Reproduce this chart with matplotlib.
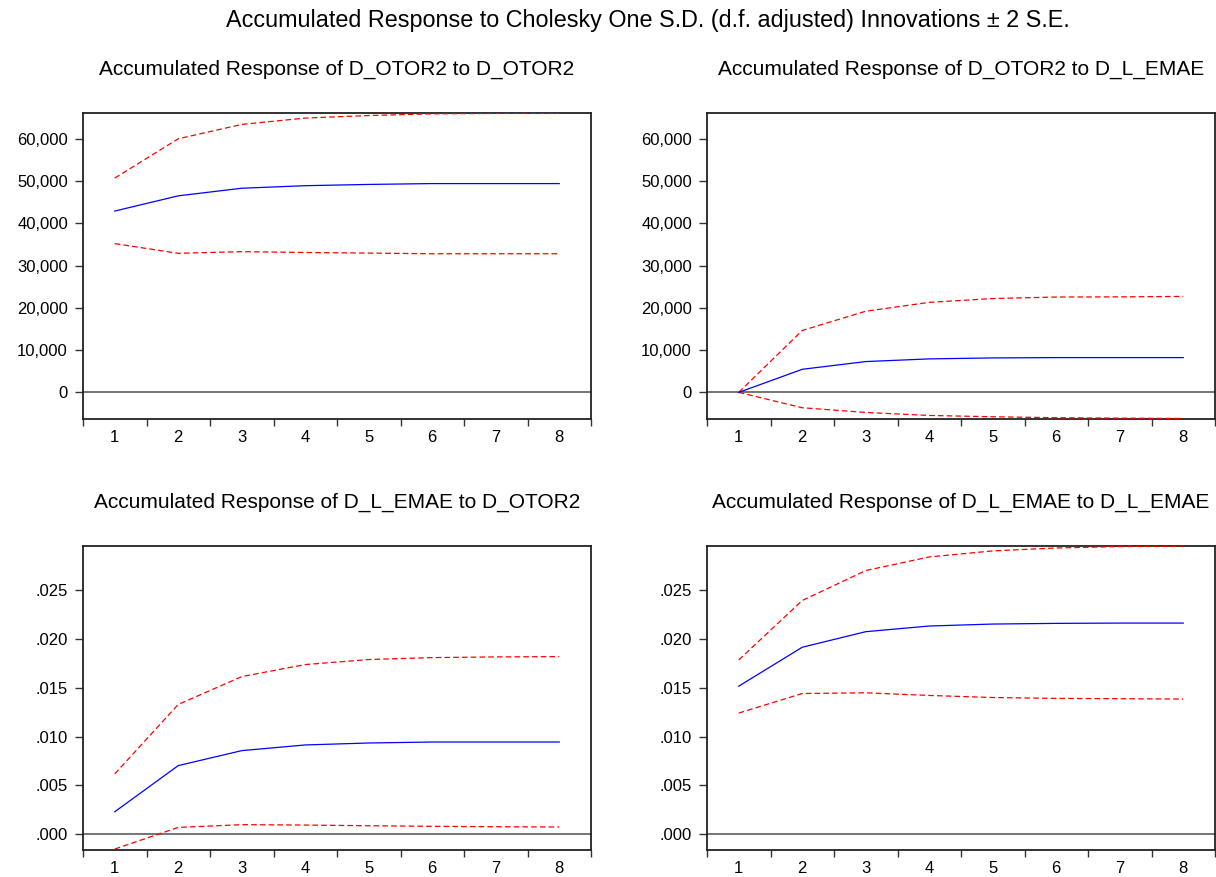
import matplotlib
matplotlib.use("Agg")
import matplotlib.pyplot as plt
import numpy as np
from matplotlib.ticker import FuncFormatter

plt.rcParams['font.family'] = ['Liberation Sans', 'DejaVu Sans']

periods = [1, 2, 3, 4, 5, 6, 7, 8]

# D_OTOR2 to D_OTOR2
otor_otor = [42900, 46500, 48300, 48900, 49200, 49400, 49400, 49400]
otor_otor_hi = [50700, 60000, 63400, 64900, 65500, 65900, 66000, 66000]
otor_otor_lo = [35200, 32900, 33300, 33100, 32950, 32800, 32800, 32800]

# D_OTOR2 to D_L_EMAE
otor_emae = [0, 5460, 7290, 7920, 8150, 8230, 8230, 8230]
otor_emae_hi = [0, 14650, 19200, 21300, 22200, 22560, 22600, 22700]
otor_emae_lo = [0, -3640, -4750, -5460, -5770, -6000, -6100, -6170]

# D_L_EMAE to D_OTOR2
emae_otor = [0.00231, 0.00703, 0.00856, 0.00914, 0.00934, 0.00944, 0.00944, 0.00944]
emae_otor_hi = [0.00618, 0.01328, 0.01613, 0.01736, 0.01787, 0.01807, 0.01814, 0.01817]
emae_otor_lo = [-0.0015, 0.00071, 0.00099, 0.00095, 0.00088, 0.00082, 0.00078, 0.00075]

# D_L_EMAE to D_L_EMAE
emae_emae = [0.01515, 0.01913, 0.02072, 0.0213, 0.0215, 0.02157, 0.0216, 0.0216]
emae_emae_hi = [0.01783, 0.02391, 0.02697, 0.02836, 0.02898, 0.02928, 0.02942, 0.02946]
emae_emae_lo = [0.0124, 0.0144, 0.01447, 0.0142, 0.01399, 0.0139, 0.01387, 0.01383]

panels = [
    ("Accumulated Response of D_OTOR2 to D_OTOR2", otor_otor, otor_otor_hi, otor_otor_lo),
    ("Accumulated Response of D_OTOR2 to D_L_EMAE", otor_emae, otor_emae_hi, otor_emae_lo),
    ("Accumulated Response of D_L_EMAE to D_OTOR2", emae_otor, emae_otor_hi, emae_otor_lo),
    ("Accumulated Response of D_L_EMAE to D_L_EMAE", emae_emae, emae_emae_hi, emae_emae_lo),
]

level_ticks = [0, 10000, 20000, 30000, 40000, 50000, 60000]
growth_ticks = [0.0, 0.005, 0.010, 0.015, 0.020, 0.025]

W, H = 1216, 877
fig = plt.figure(figsize=(W / 100, H / 100), dpi=100)
fig.text(648 / W, 1 - 20 / H,
         "Accumulated Response to Cholesky One S.D. (d.f. adjusted) Innovations \u00b1 2 S.E.",
         ha='center', va='center', fontsize=16.8)

# axes boxes in pixels: left, top, width, height
boxes = [(83, 113, 508, 306), (707, 113, 508, 306),
         (83, 546, 508, 304), (707, 546, 508, 304)]


def fmt_level(v, pos):
    return f"{v:,.0f}"


def fmt_growth(v, pos):
    return f"{v:.3f}".lstrip('0') if v >= 0 else f"{v:.3f}"


dash = (0, (4.5, 2.5))

for i, (title, mid, hi, lo) in enumerate(panels):
    x0, y0, w, h = boxes[i]
    ax = fig.add_axes([x0 / W, 1 - (y0 + h) / H, w / W, h / H])
    ax.axhline(0, color='#6a6a6a', lw=1.3, zorder=1, clip_on=False)
    ax.plot(periods, hi, color='red', lw=0.9, ls=dash, zorder=3)
    ax.plot(periods, lo, color='red', lw=0.9, ls=dash, zorder=3)
    ax.plot(periods, mid, color='blue', lw=0.9, zorder=4)

    ax.set_xlim(0.5, 8.5)
    if i < 2:
        ax.set_ylim(-6300, 66100)
        ax.set_yticks(level_ticks)
        ax.yaxis.set_major_formatter(FuncFormatter(fmt_level))
    else:
        ax.set_ylim(-0.0016, 0.02948)
        ax.set_yticks(growth_ticks)
        ax.yaxis.set_major_formatter(FuncFormatter(fmt_growth))

    ax.set_xticks(periods)
    ax.set_xticks(np.arange(0.5, 9.0, 1.0), minor=True)
    ax.tick_params(axis='x', which='major', length=0, pad=8, labelsize=12)
    ax.tick_params(axis='x', which='minor', length=5.3, width=1.0, direction='out',
                   color='#333333')
    ax.tick_params(axis='y', which='major', length=5.8, width=1.0, direction='out',
                   pad=5, labelsize=12, color='#333333')
    for s in ax.spines.values():
        s.set_linewidth(1.3)
        s.set_color('#222222')

    fig.text((x0 + w / 2) / W, 1 - (y0 - 44) / H, title,
             ha='center', va='center', fontsize=15)

fig.savefig("out.png", dpi=100)
